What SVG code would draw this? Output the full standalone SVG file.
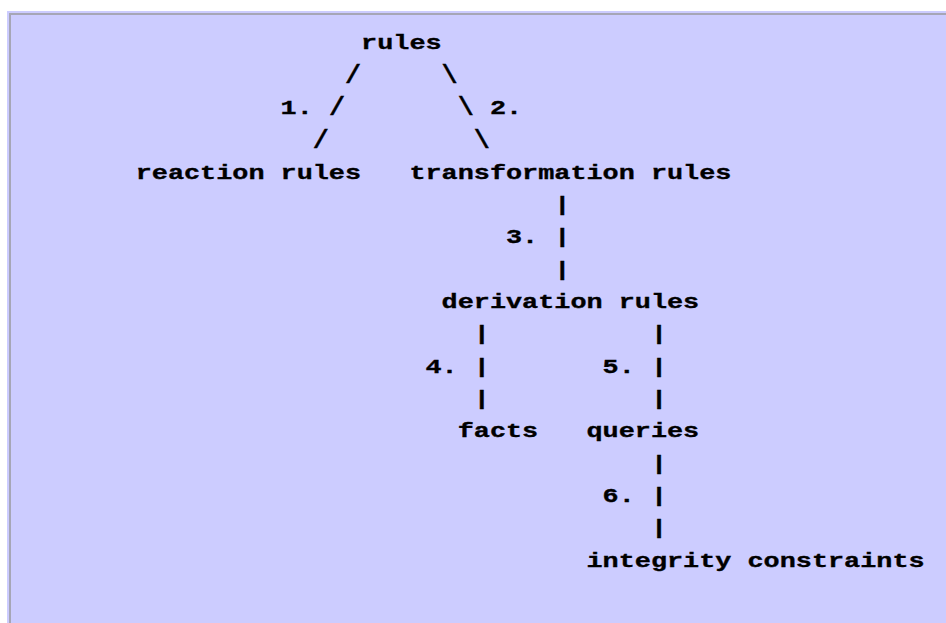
<svg xmlns="http://www.w3.org/2000/svg" width="946" height="623" viewBox="0 0 946 623">
<style>
text{font-family:"Liberation Mono","DejaVu Sans Mono",monospace;font-size:21px;font-weight:bold;fill:#000;stroke:#000;stroke-width:0.35}
text.sl{font-size:26px}
</style>
<rect x="0" y="0" width="946" height="623" fill="#ffffff"/>
<rect x="7" y="11" width="939" height="612" fill="#ccccff"/>
<rect x="9" y="13" width="937" height="2" fill="#a6a6b6"/>
<rect x="9" y="13" width="2" height="610" fill="#a6a6b6"/>
<g id="connectors">
<text class="sl" x="345" y="83" textLength="16.1" lengthAdjust="spacingAndGlyphs">/</text>
<text class="sl" x="441.6" y="83" textLength="16.1" lengthAdjust="spacingAndGlyphs">\</text>
<text x="280.6" y="114" textLength="32.2" lengthAdjust="spacingAndGlyphs">1.</text>
<text class="sl" x="328.9" y="115.4" textLength="16.1" lengthAdjust="spacingAndGlyphs">/</text>
<text class="sl" x="457.7" y="115.4" textLength="16.1" lengthAdjust="spacingAndGlyphs">\</text>
<text x="489.9" y="114" textLength="32.2" lengthAdjust="spacingAndGlyphs">2.</text>
<text class="sl" x="312.8" y="147.7" textLength="16.1" lengthAdjust="spacingAndGlyphs">/</text>
<text class="sl" x="473.8" y="147.7" textLength="16.1" lengthAdjust="spacingAndGlyphs">\</text>
<text x="554.3" y="211" textLength="16.1" lengthAdjust="spacingAndGlyphs">|</text>
<text x="506" y="243.3" textLength="32.2" lengthAdjust="spacingAndGlyphs">3.</text>
<text x="554.3" y="243.3" textLength="16.1" lengthAdjust="spacingAndGlyphs">|</text>
<text x="554.3" y="275.7" textLength="16.1" lengthAdjust="spacingAndGlyphs">|</text>
<text x="473.8" y="340.4" textLength="16.1" lengthAdjust="spacingAndGlyphs">|</text>
<text x="650.9" y="340.4" textLength="16.1" lengthAdjust="spacingAndGlyphs">|</text>
<text x="425.5" y="372.7" textLength="32.2" lengthAdjust="spacingAndGlyphs">4.</text>
<text x="473.8" y="372.7" textLength="16.1" lengthAdjust="spacingAndGlyphs">|</text>
<text x="602.6" y="372.7" textLength="32.2" lengthAdjust="spacingAndGlyphs">5.</text>
<text x="650.9" y="372.7" textLength="16.1" lengthAdjust="spacingAndGlyphs">|</text>
<text x="473.8" y="405" textLength="16.1" lengthAdjust="spacingAndGlyphs">|</text>
<text x="650.9" y="405" textLength="16.1" lengthAdjust="spacingAndGlyphs">|</text>
<text x="650.9" y="469.7" textLength="16.1" lengthAdjust="spacingAndGlyphs">|</text>
<text x="602.6" y="502.1" textLength="32.2" lengthAdjust="spacingAndGlyphs">6.</text>
<text x="650.9" y="502.1" textLength="16.1" lengthAdjust="spacingAndGlyphs">|</text>
<text x="650.9" y="534.4" textLength="16.1" lengthAdjust="spacingAndGlyphs">|</text>
</g>
<g id="rules"><text x="361.1" y="49.3" textLength="80.5" lengthAdjust="spacingAndGlyphs">rules</text></g>
<g id="reaction-rules"><text x="135.7" y="178.7" textLength="225.4" lengthAdjust="spacingAndGlyphs">reaction rules</text></g>
<g id="transformation-rules"><text x="409.4" y="178.7" textLength="322" lengthAdjust="spacingAndGlyphs">transformation rules</text></g>
<g id="derivation-rules"><text x="441.6" y="308" textLength="257.6" lengthAdjust="spacingAndGlyphs">derivation rules</text></g>
<g id="facts"><text x="457.7" y="437.4" textLength="80.5" lengthAdjust="spacingAndGlyphs">facts</text></g>
<g id="queries"><text x="586.5" y="437.4" textLength="112.7" lengthAdjust="spacingAndGlyphs">queries</text></g>
<g id="integrity-constraints"><text x="586.5" y="566.7" textLength="338.1" lengthAdjust="spacingAndGlyphs">integrity constraints</text></g>
</svg>
